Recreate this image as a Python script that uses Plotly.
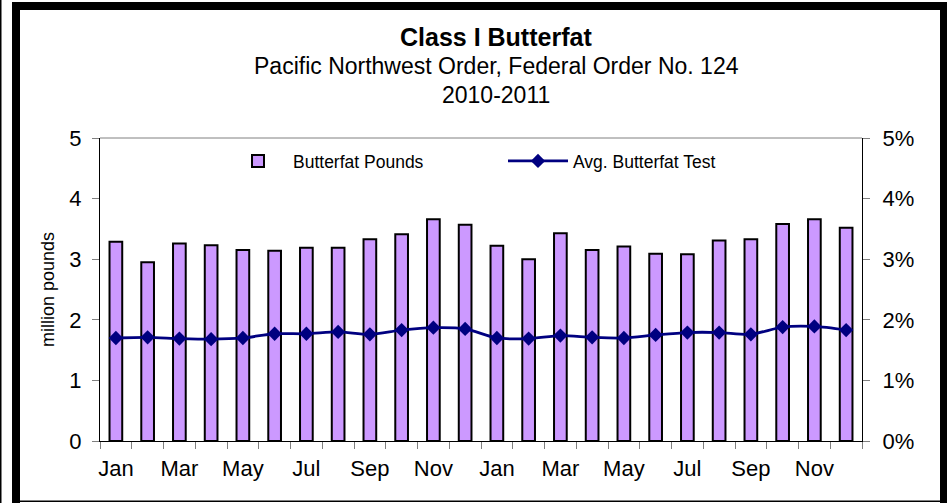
import plotly.graph_objects as go

months = ["Jan", "Feb", "Mar", "Apr", "May", "Jun", "Jul", "Aug", "Sep", "Oct", "Nov", "Dec"]
categories = [f"{m} {y}" for y in (2010, 2011) for m in months]
butterfat_pounds = [3.29, 2.95, 3.26, 3.23, 3.15, 3.14, 3.19, 3.19, 3.33, 3.41, 3.66, 3.57,
                    3.22, 3.00, 3.43, 3.15, 3.21, 3.09, 3.08, 3.31, 3.33, 3.58, 3.66, 3.52]
avg_butterfat_test = [1.70, 1.71, 1.69, 1.68, 1.70, 1.77, 1.77, 1.80, 1.76, 1.83, 1.87, 1.85,
                      1.70, 1.69, 1.74, 1.71, 1.70, 1.75, 1.79, 1.79, 1.76, 1.88, 1.89, 1.83]
tick_labels = ["Jan", "Mar", "May", "Jul", "Sep", "Nov"] * 2
left_ticks = [0, 1, 2, 3, 4, 5]
right_ticks = [0, 1, 2, 3, 4, 5]

x_idx = list(range(len(categories)))

W, H = 951, 503
L, R, T, B = 100, 89, 138, 62
PW, PH = W - L - R, H - T - B


def px(X):
    return (X - L) / PW


def py(Y):
    return (H - B - Y) / PH


FONT = "Liberation Sans, Arial, sans-serif"

fig = go.Figure()
fig.add_trace(go.Bar(
    x=x_idx, y=butterfat_pounds, name="Butterfat Pounds",
    marker=dict(color="#CC99FF", line=dict(color="black", width=2)),
    yaxis="y",
))
fig.add_trace(go.Scatter(
    x=x_idx, y=avg_butterfat_test, name="Avg. Butterfat Test",
    mode="lines+markers",
    line=dict(color="#000080", width=2.8, shape="spline", smoothing=0.8),
    marker=dict(symbol="diamond", size=11, color="#000080"),
    yaxis="y2",
))

fig.update_layout(
    width=W, height=H,
    margin=dict(l=L, r=R, t=T, b=B, pad=0),
    paper_bgcolor="white", plot_bgcolor="white",
    font=dict(family=FONT, color="black"),
    bargap=0.6,
    showlegend=True,
    legend=dict(
        orientation="h", x=px(223), y=py(161), xanchor="left", yanchor="middle",
        font=dict(size=17.5), bgcolor="rgba(0,0,0,0)",
        entrywidth=205, entrywidthmode="pixels", itemwidth=60,
    ),
    xaxis=dict(
        range=[-0.5, 23.5], tickmode="array",
        tickvals=x_idx[::2], ticktext=tick_labels,
        ticks="", tickfont=dict(size=22), ticklabelstandoff=8,
        showline=True, linecolor="black", linewidth=1,
        showgrid=False, zeroline=False,
        minor=dict(tickmode="array", tickvals=[i - 0.5 for i in range(25)],
                   ticks="outside", ticklen=7, tickcolor="#808080", showgrid=False),
    ),
    yaxis=dict(
        range=[0, 5], tickmode="array", tickvals=left_ticks,
        ticks="outside", ticklen=7, tickcolor="#808080",
        tickfont=dict(size=22), ticklabelstandoff=6,
        showline=True, linecolor="black", linewidth=1,
        showgrid=False, zeroline=False,
        title=dict(text="million pounds", font=dict(size=18), standoff=10),
    ),
    yaxis2=dict(
        range=[0, 5], tickmode="array", tickvals=right_ticks,
        ticktext=[f"{v}%" for v in right_ticks],
        overlaying="y", side="right",
        ticks="outside", ticklen=7, tickcolor="#808080",
        tickfont=dict(size=22), ticklabelstandoff=8,
        showline=True, linecolor="black", linewidth=1,
        showgrid=False, zeroline=False,
    ),
)

# title lines
title_x = px(496)
fig.add_annotation(text="<b>Class I Butterfat</b>", x=title_x, y=py(37), xref="paper", yref="paper",
                   showarrow=False, font=dict(size=25), xanchor="center", yanchor="middle")
fig.add_annotation(text="Pacific Northwest Order, Federal Order No. 124", x=title_x, y=py(66),
                   xref="paper", yref="paper", showarrow=False, font=dict(size=23),
                   xanchor="center", yanchor="middle")
fig.add_annotation(text="2010-2011", x=title_x, y=py(95), xref="paper", yref="paper",
                   showarrow=False, font=dict(size=23), xanchor="center", yanchor="middle")

# plot-area top border (gray)
fig.add_shape(type="line", xref="paper", yref="paper", x0=0, x1=1, y0=1, y1=1,
              line=dict(color="#808080", width=1))

# outer frame (filled bands)
def band(x0, x1, y0, y1):
    fig.add_shape(type="rect", xref="paper", yref="paper",
                  x0=px(x0), x1=px(x1), y0=py(y0), y1=py(y1),
                  fillcolor="black", line=dict(width=0), layer="above")


band(12, 20, 2, 510)      # left
band(940, 947, 2, 510)    # right
band(12, 947, 2, 10)      # top
band(20, 940, 500.5, 502)  # thin bottom
band(0, 1.5, 0, 503)      # thin left edge line

fig.write_html(
    "out.html",
    config={"displayModeBar": False},
    post_script="document.body.style.margin='0px';document.body.style.overflow='hidden';"
                "document.documentElement.style.overflow='hidden';",
)
